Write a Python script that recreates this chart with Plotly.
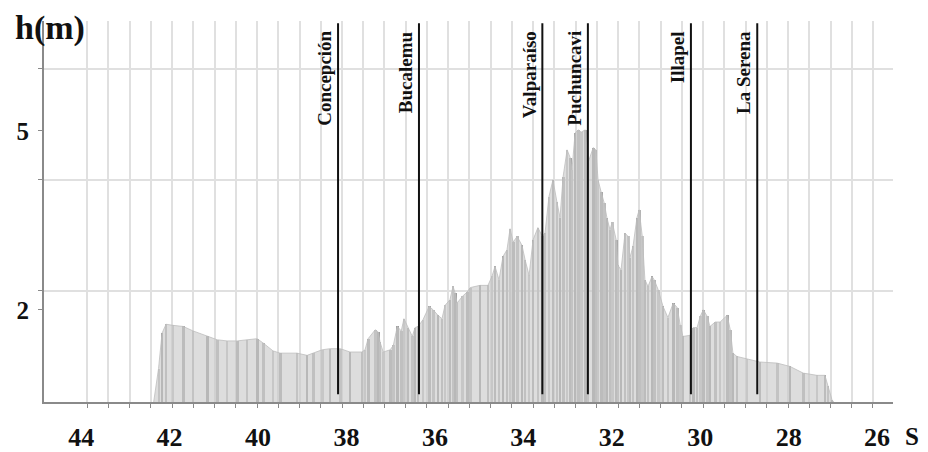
import plotly.graph_objects as go

# ---- data ----
lat = [42.36, 42.25, 42.17, 42.08, 41.92, 41.69, 41.47, 41.15, 40.92, 40.70, 40.47, 40.25,
       40.02, 39.88, 39.66, 39.50, 39.12, 38.89, 38.75, 38.55, 38.37, 38.14, 37.92, 37.65,
       37.58, 37.51, 37.35, 37.28, 37.24, 37.17, 37.01, 36.94, 36.85, 36.76, 36.70, 36.61,
       36.51, 36.45, 36.38, 36.27, 36.13, 36.04, 35.93, 35.84, 35.77, 35.66, 35.59, 35.54,
       35.50, 35.38, 35.27, 35.20, 34.98, 34.80, 34.71, 34.64, 34.55, 34.46, 34.37, 34.30,
       34.23, 34.14, 34.03, 33.96, 33.87, 33.78, 33.67, 33.57, 33.51, 33.42, 33.33, 33.24,
       33.17, 33.10, 33.01, 32.94, 32.90, 32.83, 32.76, 32.69, 32.60, 32.54, 32.42, 32.36,
       32.31, 32.24, 32.17, 32.11, 32.04, 31.99, 31.90, 31.86, 31.79, 31.70, 31.63, 31.59,
       31.52, 31.43, 31.38, 31.31, 31.25, 31.18, 31.09, 31.04, 30.95, 30.84, 30.73, 30.61,
       30.52, 30.45, 30.39, 30.23, 30.16, 30.07, 30.00, 29.93, 29.84, 29.78, 29.66, 29.55,
       29.39, 29.32, 29.26, 29.17, 28.94, 28.65, 28.26, 27.97, 27.67, 27.36, 27.18, 27.11,
       27.02, 26.98]
h = [0.00, 0.30, 0.62, 0.70, 0.69, 0.68, 0.64, 0.59, 0.56, 0.55, 0.55, 0.56,
     0.57, 0.53, 0.46, 0.44, 0.44, 0.42, 0.44, 0.47, 0.48, 0.48, 0.45, 0.45,
     0.47, 0.57, 0.65, 0.63, 0.54, 0.45, 0.47, 0.51, 0.68, 0.64, 0.75, 0.67,
     0.59, 0.67, 0.68, 0.74, 0.86, 0.83, 0.78, 0.75, 0.87, 0.92, 1.04, 0.98,
     0.89, 0.95, 0.99, 1.03, 1.05, 1.05, 1.13, 1.22, 1.10, 1.31, 1.37, 1.56,
     1.44, 1.49, 1.41, 1.28, 1.14, 1.46, 1.57, 1.49, 1.52, 1.85, 2.00, 1.80,
     1.66, 2.03, 2.27, 2.20, 2.09, 2.42, 2.45, 2.43, 2.45, 2.15, 2.29, 2.27,
     2.00, 1.89, 1.79, 1.66, 1.55, 1.62, 1.46, 1.23, 1.19, 1.52, 1.49, 1.30,
     1.40, 1.66, 1.73, 1.49, 1.10, 1.04, 1.13, 1.10, 1.01, 0.86, 0.76, 0.89,
     0.85, 0.69, 0.59, 0.60, 0.67, 0.67, 0.77, 0.83, 0.77, 0.68, 0.72, 0.72,
     0.78, 0.65, 0.44, 0.41, 0.39, 0.36, 0.35, 0.32, 0.26, 0.24, 0.24, 0.14,
     0.02, 0.00]

cities = ["Concepción", "Bucalemu", "Valparaíso", "Puchuncavi", "Illapel", "La Serena"]
city_lat = [38.19, 36.36, 33.57, 32.54, 30.21, 28.71]

x_tick_vals = [44, 42, 40, 38, 36, 34, 32, 30, 28, 26]
x_tick_text = ["44", "42", "40", "38", "36", "34", "32", "30", "28", "26"]
y_tick_vals = [0.83, 2.44]
y_tick_text = ["2", "5"]

# ---- styling ----
SERIF = "Liberation Serif, Times New Roman, serif"
GRID = "rgb(224,224,224)"
X_RANGE = [44.84, 25.64]
Y_RANGE = [0, 3.43]
vgrid = [43.864 - i * 0.4803 for i in range(38)]
hgrid = [1, 2, 3]

greys = ["#a8a8a8", "#bababa", "#9e9e9e", "#b4b4b4", "#c4c4c4"]
bar_colors = [greys[i % len(greys)] for i in range(len(lat))]

fig = go.Figure()
fig.add_trace(go.Bar(
    x=lat, y=h, width=0.04, marker=dict(color=bar_colors, line=dict(width=0)),
    hoverinfo="skip", showlegend=False))
fig.add_trace(go.Scatter(
    x=lat, y=h, mode="lines", fill="tozeroy",
    line=dict(color="rgba(190,190,190,0.8)", width=1),
    fillcolor="rgba(200,200,200,0.62)", showlegend=False))

# city marker lines
lx, ly = [], []
for c in city_lat:
    lx += [c, c, None]
    ly += [0.07, 3.41, None]
fig.add_trace(go.Scatter(x=lx, y=ly, mode="lines",
                         line=dict(color="#111111", width=2),
                         hoverinfo="skip", showlegend=False))

for name, c in zip(cities, city_lat):
    fig.add_annotation(x=c, y=3.36, xref="x", yref="y", text=name,
                       textangle=-90, xanchor="right", yanchor="top", xshift=-1,
                       showarrow=False,
                       font=dict(family=SERIF, size=19, color="#111111", weight="bold"))

fig.add_annotation(x=0.007, y=0.982, xref="paper", yref="paper", text="h(m)",
                   showarrow=False, xanchor="center", yanchor="middle",
                   font=dict(family=SERIF, size=34, color="#111111", weight="bold"))
fig.add_annotation(x=1.022, y=-0.09, xref="paper", yref="paper", text="S",
                   showarrow=False, xanchor="center", yanchor="middle",
                   font=dict(family=SERIF, size=25, color="#111111", weight="bold"))

# the page adds an 8px body margin, so the figure is sized/placed to compensate
fig.update_layout(
    width=920, height=444,
    margin=dict(l=36, r=35, t=13, b=50, autoexpand=False),
    paper_bgcolor="white", plot_bgcolor="white",
    bargap=0, barmode="overlay",
    xaxis=dict(range=X_RANGE, tickmode="array", tickvals=x_tick_vals, ticktext=x_tick_text,
               automargin=False,
               showgrid=False, zeroline=False, ticks="", ticklabelstandoff=11,
               tickfont=dict(family=SERIF, size=26, color="#111111", weight="bold"),
               showline=True, linecolor="#8a8a8a", linewidth=2,
               minor=dict(tickmode="array", tickvals=vgrid, showgrid=True, gridcolor=GRID,
                          gridwidth=2, ticks="outside", ticklen=4, tickcolor="#8a8a8a")),
    yaxis=dict(range=Y_RANGE, tickmode="array", tickvals=y_tick_vals, ticktext=y_tick_text,
               automargin=False,
               showgrid=False, zeroline=False, ticks="outside", ticklen=4, tickcolor="#8a8a8a",
               ticklabelstandoff=4,
               tickfont=dict(family=SERIF, size=25, color="#111111", weight="bold"),
               showline=True, linecolor="#8a8a8a", linewidth=2,
               minor=dict(tickmode="array", tickvals=hgrid, showgrid=True, gridcolor=GRID,
                          gridwidth=2, ticks="outside", ticklen=4, tickcolor="#8a8a8a")),
)

fig.write_html("out.html")
